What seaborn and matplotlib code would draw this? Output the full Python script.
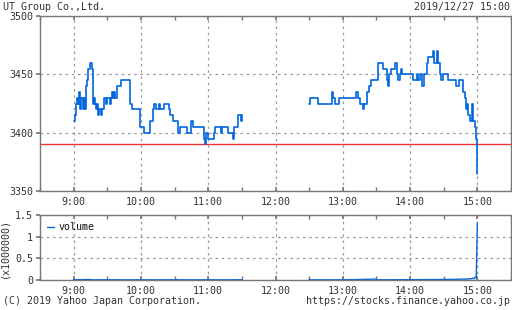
import matplotlib
matplotlib.use("Agg")
import matplotlib.pyplot as plt
from matplotlib.lines import Line2D
import seaborn as sns
import pandas as pd

# ---- data (minutes since 9:00) ----
am_t = [0, 1, 2, 3, 4, 5, 6, 7, 8, 9, 10, 11, 12, 13, 15, 16, 17, 18, 19, 20, 21, 22, 23, 24, 25,
        27, 29, 30, 32, 33, 34, 35, 36, 37, 39, 42, 50, 52, 59, 63, 68, 71, 72, 73, 76, 77, 81, 85,
        86, 89, 93, 95, 101, 105, 106, 116, 117, 118, 120, 125, 126, 131, 132, 138, 142, 143, 147, 149, 150]
am_p = [3410, 3415, 3425, 3430, 3425, 3435, 3420, 3430, 3420, 3430, 3420, 3440, 3445, 3455, 3460, 3455,
        3425, 3430, 3425, 3420, 3425, 3415, 3420, 3415, 3420, 3430, 3425, 3430, 3425, 3430, 3435, 3430,
        3435, 3430, 3440, 3445, 3425, 3420, 3405, 3400, 3410, 3420, 3425, 3420, 3425, 3420, 3425, 3420,
        3415, 3410, 3400, 3405, 3400, 3410, 3405, 3395, 3390, 3400, 3395, 3400, 3405, 3400, 3405, 3400,
        3395, 3405, 3415, 3410, 3415]
pm_t = [210, 211, 218, 230, 231, 233, 237, 252, 254, 255, 258, 259, 262, 263, 265, 271, 276, 279, 280,
        281, 283, 287, 288, 289, 291, 292, 293, 303, 306, 307, 309, 311, 312, 315, 316, 320, 321, 324,
        325, 327, 328, 329, 334, 341, 344, 347, 349, 350, 351, 352, 353, 355, 356, 358, 359, 360]
pm_p = [3425, 3430, 3425, 3435, 3430, 3425, 3430, 3435, 3430, 3425, 3420, 3425, 3435, 3440, 3445, 3460,
        3455, 3445, 3440, 3450, 3455, 3460, 3450, 3445, 3450, 3455, 3450, 3445, 3450, 3445, 3450, 3440,
        3450, 3460, 3465, 3470, 3460, 3470, 3460, 3450, 3445, 3450, 3445, 3440, 3445, 3435, 3430, 3420,
        3425, 3415, 3410, 3425, 3410, 3405, 3395, 3365]
prev_close = 3390

vam_t = [0, 1, 15, 16, 30, 45, 60, 75, 90, 105, 120, 135, 150]
vam_v = [0.02, 0.005, 0.012, 0.004, 0.006, 0.004, 0.005, 0.004, 0.006, 0.004, 0.005, 0.004, 0.006]
vpm_t = [210, 211, 240, 270, 271, 290, 300, 320, 330, 340, 345, 350, 352, 354, 356, 357, 358, 359, 360]
vpm_v = [0.01, 0.004, 0.004, 0.02, 0.005, 0.006, 0.008, 0.01, 0.012, 0.015, 0.02, 0.02, 0.03, 0.025,
         0.04, 0.03, 0.06, 0.05, 1.32]

hour_ticks = [0, 60, 120, 180, 240, 300, 360]
hour_labels = ["9:00", "10:00", "11:00", "12:00", "13:00", "14:00", "15:00"]
half_ticks = [-30, 30, 90, 150, 210, 270, 330, 390]

price_df = pd.DataFrame({
    "t": am_t + pm_t,
    "p": am_p + pm_p,
    "s": ["am"] * len(am_t) + ["pm"] * len(pm_t),
})
vol_df = pd.DataFrame({
    "t": vam_t + vpm_t,
    "v": vam_v + vpm_v,
    "s": ["am"] * len(vam_t) + ["pm"] * len(vpm_t),
})

sns.set_theme(style="white")
plt.rcParams["font.family"] = ["DejaVu Sans Mono"]
TXT = "#333333"
SPINE = "#777777"
GRID = "#999999"
BLUE = "#0066dd"
FS = 7.2

fig = plt.figure(figsize=(5.12, 3.10), dpi=100)
ax1 = fig.add_axes([40 / 512, 1 - 191 / 310, 471 / 512, 175 / 310])
ax2 = fig.add_axes([40 / 512, 1 - 280 / 310, 471 / 512, 65 / 310])

sns.lineplot(data=price_df, x="t", y="p", units="s", estimator=None, ax=ax1,
             color=BLUE, linewidth=1.2, drawstyle="steps-post", legend=False)
ax1.axhline(prev_close, color="#ee3333", linewidth=1.0, zorder=1)

sns.lineplot(data=vol_df, x="t", y="v", units="s", estimator=None, ax=ax2,
             color=BLUE, linewidth=1.0, legend=False)

for ax in (ax1, ax2):
    ax.set_xlim(-30, 390)
    ax.set_xticks(hour_ticks)
    ax.set_xticklabels(hour_labels)
    ax.set_xticks(half_ticks, minor=True)
    ax.set_xlabel("")
    ax.set_ylabel("")
    for sp in ax.spines.values():
        sp.set_color(SPINE)
        sp.set_linewidth(1.0)
        sp.set_visible(True)
    ax.grid(True, which="major", linestyle=(0, (2, 3)), color=GRID, linewidth=0.9)
    ax.tick_params(axis="x", which="both", direction="in", top=True, bottom=True,
                   length=3, color=SPINE, labelsize=FS, labelcolor=TXT, pad=4)
    ax.tick_params(axis="y", which="major", direction="out", left=True, length=3,
                   color=SPINE, labelsize=FS, labelcolor=TXT, pad=2)

ax1.set_ylim(3350, 3500)
ax1.set_yticks([3350, 3400, 3450, 3500])

ax2.set_ylim(0, 1.5)
ax2.set_yticks([0, 0.5, 1, 1.5])
ax2.set_yticklabels(["0", "0.5", "1", "1.5"])
ax2.set_ylabel("(x1000000)", fontsize=FS, color=TXT, labelpad=4)
handle = Line2D([], [], color=BLUE, linewidth=1.0)
leg = ax2.legend([handle], ["volume"], loc="upper left", frameon=False, fontsize=FS,
                 handlelength=0.7, handletextpad=0.5, borderaxespad=0.3)
for t in leg.get_texts():
    t.set_color("#111111")

fig.text(3 / 512, 1 - 7 / 310, "UT Group Co.,Ltd.", fontsize=FS, color=TXT, va="center", ha="left")
fig.text(510 / 512, 1 - 7 / 310, "2019/12/27 15:00", fontsize=FS, color=TXT, va="center", ha="right")
fig.text(3 / 512, 1 - 301 / 310, "(C) 2019 Yahoo Japan Corporation.", fontsize=FS, color=TXT,
         va="center", ha="left")
fig.text(510 / 512, 1 - 301 / 310, "https://stocks.finance.yahoo.co.jp", fontsize=FS, color=TXT,
         va="center", ha="right")

fig.savefig("out.png", dpi=100, facecolor="white")
